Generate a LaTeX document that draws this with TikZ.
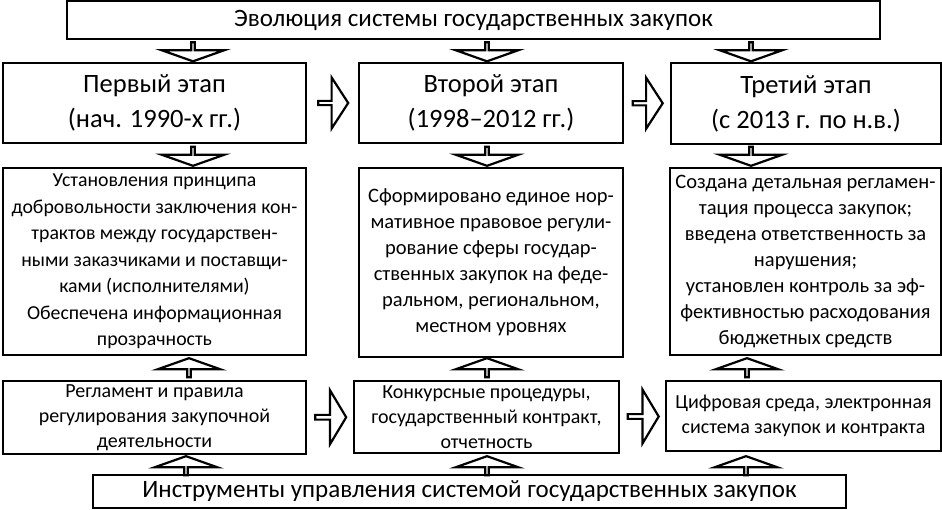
\documentclass[tikz,border=0pt]{standalone}
\usepackage{fontspec}
\setmainfont{Carlito}
\usetikzlibrary{shapes.arrows, positioning, calc}
\tikzset{
	box/.style      ={rectangle, draw=black, line width=1.8pt, align=center, inner sep=1pt},
	titlebox/.style ={box, font=\fontsize{25}{28}\selectfont},
	stagebox/.style ={box, font=\fontsize{26.5}{35}\selectfont},
	infobox/.style  ={box, font=\fontsize{20.5}{26}\selectfont},
	toolbox/.style  ={box, font=\fontsize{20}{25}\selectfont},
	% block arrows between the boxes
	blockarr/.style ={single arrow, draw=black, line width=2.2pt, fill=white, inner sep=0pt, single arrow head indent=0pt},
	downarr/.style  ={blockarr, rotate=-90, minimum height=19pt, minimum width=63pt, single arrow head extend=18pt, single arrow tip angle=141},
	uparr/.style    ={blockarr, rotate=90, minimum height=19pt, minimum width=63pt, single arrow head extend=18pt, single arrow tip angle=141},
	rightarr/.style ={blockarr, minimum height=30pt, minimum width=51pt, single arrow head extend=12pt, single arrow tip angle=114},
	rightarrb/.style={blockarr, minimum height=31pt, minimum width=54pt, single arrow head extend=11.5pt, single arrow tip angle=118},
}
\begin{document}
\begin{tikzpicture}[x=1pt, y=-1pt]
	\useasboundingbox (0,0) rectangle (942,510);
	\node[titlebox, minimum width=813pt, minimum height=38pt] (evol) at (473.5,20) {Эволюция системы государственных закупок};
	% stages
	\node[stagebox, minimum width=303pt, minimum height=80pt] (st1) at (154.5,103) {Первый этап\\(нач. 1990-х гг.)};
	\node[stagebox, minimum width=264pt, minimum height=80pt] (st2) at (491,103) {Второй этап\\(1998--2012 гг.)};
	\node[stagebox, minimum width=270pt, minimum height=81pt] (st3) at (806,103.5) {Третий этап\\(с 2013 г. по н.в.)};
	% results of each stage
	\node[infobox, minimum width=303pt, minimum height=187pt, font=\fontsize{19.8}{26.5}\selectfont] (res1) at (154.5,261.5) {Установления принципа\\добровольности заключения кон-\\трактов между государствен-\\ными заказчиками и поставщи-\\ками (исполнителями)\\Обеспечена информационная\\прозрачность};
	\node[infobox, minimum width=264pt, minimum height=189pt] (res2) at (491,262.5) {Сформировано единое нор-\\мативное правовое регули-\\рование сферы государ-\\ственных закупок на феде-\\ральном, региональном,\\местном уровнях};
	\node[infobox, minimum width=271pt, minimum height=187pt] (res3) at (805.5,261.5) {Создана детальная регламен-\\тация процесса закупок;\\введена ответственность за\\нарушения;\\установлен контроль за эф-\\фективностью расходования\\бюджетных средств};
	% tools
	\node[toolbox, minimum width=303pt, minimum height=73pt] (tl1) at (154.5,417.5) {Регламент и правила\\регулирования закупочной\\деятельности};
	\node[toolbox, minimum width=265pt, minimum height=72pt] (tl2) at (486.5,417) {Конкурсные процедуры,\\государственный контракт,\\отчетность};
	\node[toolbox, minimum width=275pt, minimum height=70pt] (tl3) at (803.5,416) {Цифровая среда, электронная\\система закупок и контракта};
	\node[titlebox, minimum width=753pt, minimum height=33pt] (instr) at (469.5,491.5) {Инструменты управления системой государственных закупок};
	% arrows
	\foreach \xa in {193,487,751} {
		\node[downarr] at (\xa,51.5) {};
		\node[downarr] at (\xa,156) {};
	}
	\foreach \xa in {189,487,747} \node[uparr] at (\xa,368) {};
	\foreach \xa in {186,487,746} \node[uparr] at (\xa,466) {};
	\node[rightarr] at ($(st1.east)!0.5!(st2.west)$) {};
	\node[rightarr] at ($(st2.east)!0.5!(st3.west)$) {};
	\node[rightarrb] at ($(tl1.east)!0.5!(tl2.west)$) {};
	\node[rightarrb] at ($(tl2.east)!0.5!(tl3.west)$) {};
\end{tikzpicture}
\end{document}
